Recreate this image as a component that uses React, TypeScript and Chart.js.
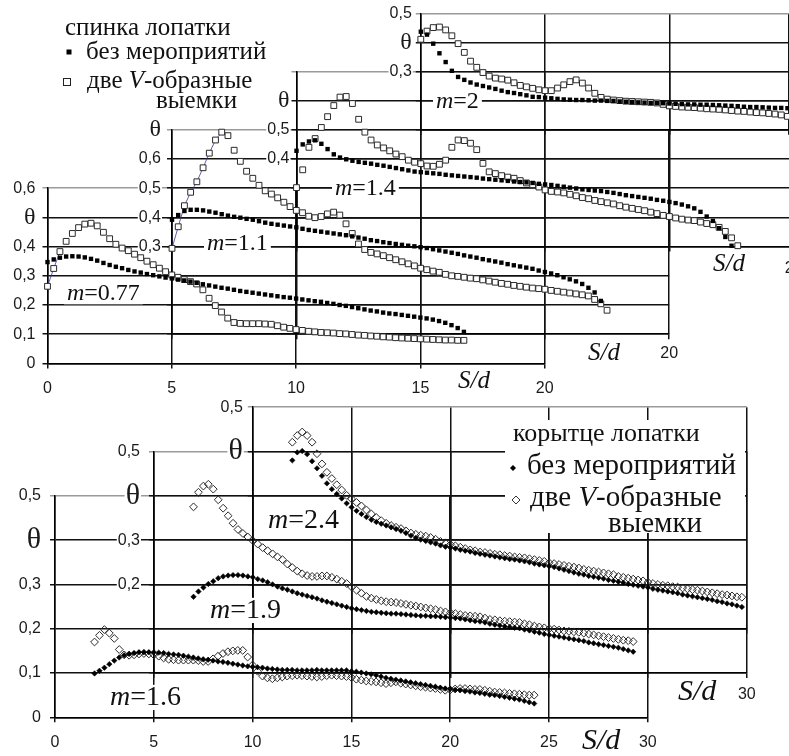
import React, { useEffect, useRef } from 'react';
import { Chart, registerables } from 'chart.js';

Chart.register(...registerables);

const CW = 900;
const CH = 760;
const SANS = '"Liberation Sans", Arial, sans-serif';
const SERIF = '"Liberation Serif", "Times New Roman", serif';
const DARK = '#111';
const GRAY = '#9a9a9a';

// S/d stations
const TOP_S = [0,0.25,0.5,0.75,1,1.25,1.5,1.75,2,2.25,2.5,2.75,3,3.25,3.5,3.75,4,4.25,4.5,4.75,5,5.25,5.5,5.75,6,6.25,6.5,6.75,7,7.25,7.5,7.75,8,8.25,8.5,8.75,9,9.25,9.5,9.75,10,10.25,10.5,10.75,11,11.25,11.5,11.75,12,12.25,12.5,12.75,13,13.25,13.5,13.75,14,14.25,14.5,14.75,15,15.25,15.5,15.75,16,16.25,16.5,16.75,17,17.25,17.5,17.75];
const BOT_S = [2,2.25,2.5,2.75,3,3.25,3.5,3.75,4,4.25,4.5,4.75,5,5.25,5.5,5.75,6,6.25,6.5,6.75,7,7.25,7.5,7.75,8,8.25,8.5,8.75,9,9.25,9.5,9.75,10,10.25,10.5,10.75,11,11.25,11.5,11.75,12,12.25,12.5,12.75,13,13.25,13.5,13.75,14,14.25,14.5,14.75,15,15.25,15.5,15.75,16,16.25,16.5,16.75,17,17.25,17.5,17.75,18,18.25,18.5,18.75,19,19.25,19.5,19.75,20,20.25,20.5,20.75,21,21.25,21.5,21.75,22,22.25,22.5,22.75,23,23.25,23.5,23.75,24,24.25,24.5,24.75];

// спинка лопатки, m = 0.77
const A_FILLED = [0.347,0.356,0.362,0.366,0.367,0.366,0.363,0.358,0.352,0.344,0.337,0.331,0.326,0.320,0.315,0.311,0.306,0.302,0.298,0.294,0.291,0.287,0.284,0.280,0.276,0.271,0.267,0.263,0.259,0.256,0.252,0.248,0.245,0.242,0.239,0.236,0.233,0.230,0.227,0.225,0.222,0.219,0.216,0.213,0.211,0.207,0.204,0.200,0.197,0.193,0.189,0.185,0.181,0.178,0.174,0.171,0.169,0.166,0.163,0.160,0.157,0.154,0.150,0.145,0.139,0.131,0.121,0.108];
const A_HOLLOW = [0.264,0.325,0.383,0.418,0.445,0.465,0.477,0.480,0.471,0.449,0.427,0.408,0.395,0.386,0.374,0.362,0.350,0.338,0.326,0.314,0.303,0.295,0.287,0.280,0.272,0.252,0.223,0.198,0.176,0.155,0.140,0.137,0.136,0.136,0.136,0.135,0.134,0.129,0.124,0.120,0.116,0.113,0.110,0.108,0.106,0.105,0.104,0.102,0.101,0.099,0.097,0.096,0.094,0.093,0.091,0.090,0.088,0.087,0.086,0.085,0.084,0.083,0.082,0.081,0.080,0.080,0.079,0.079];
// m = 1.1
const B_FILLED = [0.392,0.408,0.422,0.426,0.426,0.424,0.420,0.416,0.411,0.406,0.402,0.399,0.395,0.392,0.387,0.382,0.378,0.375,0.372,0.369,0.366,0.361,0.357,0.354,0.351,0.348,0.345,0.342,0.339,0.335,0.331,0.327,0.322,0.319,0.315,0.312,0.309,0.306,0.303,0.301,0.298,0.295,0.291,0.287,0.283,0.279,0.275,0.270,0.266,0.262,0.257,0.253,0.249,0.245,0.240,0.236,0.232,0.228,0.224,0.218,0.213,0.208,0.202,0.195,0.188,0.181,0.172,0.159,0.143,0.114];
const B_HOLLOW = [0.294,0.368,0.440,0.486,0.522,0.570,0.620,0.665,0.692,0.680,0.630,0.592,0.558,0.534,0.510,0.491,0.480,0.467,0.452,0.437,0.424,0.416,0.404,0.399,0.403,0.412,0.418,0.408,0.378,0.345,0.309,0.290,0.280,0.275,0.269,0.262,0.255,0.248,0.241,0.234,0.226,0.221,0.216,0.212,0.205,0.200,0.198,0.195,0.192,0.190,0.186,0.182,0.178,0.174,0.171,0.167,0.164,0.161,0.158,0.156,0.154,0.150,0.147,0.144,0.141,0.138,0.135,0.131,0.119,0.104,0.082];
// m = 1.4
const C_FILLED = [0.428,0.450,0.460,0.464,0.452,0.434,0.416,0.405,0.399,0.394,0.390,0.387,0.384,0.380,0.377,0.373,0.369,0.365,0.361,0.357,0.355,0.353,0.351,0.349,0.346,0.344,0.342,0.340,0.338,0.336,0.333,0.331,0.329,0.327,0.325,0.323,0.321,0.320,0.318,0.315,0.313,0.311,0.308,0.305,0.302,0.299,0.296,0.294,0.292,0.290,0.287,0.284,0.280,0.276,0.273,0.270,0.267,0.264,0.260,0.257,0.253,0.249,0.244,0.238,0.231,0.219,0.203,0.188,0.163,0.133,0.103];
const C_HOLLOW = [0.302,0.363,0.440,0.470,0.508,0.545,0.583,0.612,0.614,0.590,0.536,0.492,0.465,0.448,0.438,0.428,0.417,0.408,0.396,0.389,0.384,0.376,0.375,0.382,0.396,0.440,0.465,0.463,0.454,0.432,0.385,0.356,0.350,0.343,0.338,0.334,0.326,0.318,0.312,0.304,0.294,0.289,0.287,0.284,0.279,0.274,0.268,0.264,0.258,0.254,0.250,0.246,0.240,0.235,0.231,0.227,0.223,0.218,0.213,0.207,0.203,0.198,0.194,0.191,0.189,0.184,0.179,0.175,0.166,0.152,0.130,0.103];
// m = 2
const D_FILLED = [0.436,0.426,0.395,0.362,0.332,0.302,0.281,0.271,0.262,0.255,0.250,0.245,0.240,0.234,0.229,0.226,0.222,0.218,0.213,0.212,0.210,0.208,0.206,0.204,0.203,0.202,0.202,0.201,0.200,0.200,0.199,0.199,0.197,0.196,0.195,0.194,0.193,0.192,0.192,0.191,0.190,0.189,0.188,0.187,0.187,0.186,0.186,0.185,0.184,0.183,0.182,0.181,0.179,0.178,0.178,0.177,0.176,0.175,0.175,0.174];
const D_HOLLOW = [0.410,0.438,0.450,0.452,0.442,0.422,0.395,0.365,0.335,0.314,0.296,0.284,0.277,0.274,0.270,0.261,0.252,0.247,0.242,0.237,0.234,0.234,0.243,0.254,0.265,0.271,0.260,0.243,0.225,0.211,0.205,0.202,0.200,0.198,0.197,0.196,0.195,0.194,0.192,0.187,0.182,0.180,0.178,0.177,0.176,0.174,0.172,0.171,0.170,0.168,0.166,0.164,0.163,0.161,0.159,0.158,0.156,0.154,0.151,0.146];

// корытце лопатки, m = 1.6
const E_FILLED = [0.099,0.105,0.112,0.120,0.128,0.135,0.140,0.143,0.145,0.147,0.147,0.147,0.147,0.146,0.145,0.143,0.142,0.141,0.139,0.137,0.135,0.133,0.131,0.130,0.128,0.126,0.125,0.123,0.121,0.119,0.117,0.115,0.114,0.113,0.112,0.110,0.109,0.108,0.107,0.107,0.107,0.106,0.106,0.106,0.106,0.107,0.106,0.106,0.106,0.106,0.106,0.106,0.104,0.103,0.101,0.099,0.097,0.095,0.092,0.089,0.087,0.085,0.083,0.081,0.079,0.077,0.075,0.073,0.071,0.069,0.067,0.065,0.064,0.062,0.061,0.059,0.058,0.056,0.055,0.053,0.051,0.050,0.048,0.046,0.044,0.042,0.040,0.037,0.034,0.031];
const E_HOLLOW = [0.170,0.185,0.198,0.190,0.178,0.153,0.141,0.140,0.141,0.143,0.144,0.143,0.141,0.138,0.134,0.131,0.130,0.129,0.129,0.129,0.129,0.128,0.126,0.126,0.132,0.138,0.144,0.148,0.150,0.151,0.151,0.136,0.118,0.104,0.093,0.089,0.087,0.089,0.091,0.093,0.094,0.095,0.094,0.093,0.092,0.091,0.092,0.094,0.095,0.094,0.093,0.092,0.090,0.086,0.084,0.082,0.081,0.080,0.078,0.076,0.078,0.080,0.077,0.075,0.073,0.071,0.069,0.068,0.066,0.065,0.063,0.061,0.062,0.064,0.065,0.065,0.064,0.063,0.063,0.061,0.059,0.057,0.056,0.055,0.054,0.053,0.052,0.051,0.050,0.050];
// m = 1.9
const F_FILLED = [0.172,0.184,0.193,0.201,0.207,0.214,0.218,0.220,0.221,0.221,0.220,0.218,0.216,0.212,0.209,0.205,0.200,0.195,0.191,0.188,0.184,0.180,0.177,0.174,0.171,0.168,0.164,0.161,0.158,0.155,0.152,0.149,0.146,0.144,0.142,0.140,0.138,0.137,0.136,0.135,0.134,0.134,0.133,0.132,0.131,0.130,0.129,0.129,0.128,0.128,0.127,0.126,0.125,0.124,0.123,0.121,0.119,0.117,0.116,0.114,0.111,0.109,0.107,0.105,0.104,0.102,0.101,0.098,0.096,0.093,0.091,0.088,0.086,0.084,0.082,0.080,0.078,0.076,0.074,0.072,0.069,0.067,0.065,0.063,0.061,0.059,0.057,0.054,0.051,0.048];
const F_HOLLOW = [0.375,0.408,0.422,0.426,0.415,0.391,0.372,0.355,0.338,0.324,0.315,0.307,0.299,0.291,0.283,0.276,0.269,0.262,0.256,0.246,0.238,0.230,0.224,0.220,0.218,0.218,0.219,0.219,0.216,0.212,0.207,0.202,0.194,0.187,0.180,0.173,0.169,0.166,0.163,0.161,0.160,0.159,0.157,0.155,0.153,0.151,0.149,0.147,0.145,0.143,0.140,0.138,0.136,0.134,0.132,0.130,0.129,0.128,0.127,0.124,0.121,0.120,0.118,0.117,0.116,0.115,0.114,0.111,0.109,0.106,0.104,0.102,0.100,0.099,0.097,0.095,0.094,0.093,0.092,0.090,0.088,0.086,0.084,0.082,0.080,0.078,0.076,0.074,0.073,0.071];
// m = 2.4
const G_FILLED = [0.380,0.398,0.401,0.394,0.378,0.362,0.345,0.328,0.315,0.304,0.294,0.283,0.274,0.266,0.259,0.252,0.246,0.241,0.237,0.233,0.229,0.225,0.221,0.216,0.210,0.205,0.201,0.198,0.195,0.192,0.188,0.185,0.183,0.181,0.178,0.176,0.174,0.171,0.169,0.167,0.165,0.163,0.161,0.159,0.157,0.156,0.154,0.152,0.150,0.147,0.145,0.143,0.141,0.139,0.136,0.133,0.130,0.127,0.124,0.122,0.119,0.117,0.115,0.113,0.110,0.108,0.106,0.104,0.101,0.099,0.097,0.095,0.093,0.090,0.088,0.086,0.084,0.082,0.080,0.077,0.075,0.073,0.071,0.069,0.067,0.065,0.062,0.060,0.057,0.055,0.052,0.049];
const G_HOLLOW = [0.421,0.436,0.444,0.436,0.421,0.395,0.372,0.353,0.339,0.325,0.313,0.301,0.293,0.285,0.277,0.268,0.259,0.251,0.244,0.238,0.233,0.229,0.226,0.221,0.216,0.213,0.211,0.209,0.206,0.202,0.197,0.193,0.190,0.187,0.184,0.181,0.178,0.176,0.173,0.172,0.170,0.168,0.167,0.165,0.164,0.162,0.161,0.160,0.158,0.156,0.154,0.152,0.149,0.147,0.145,0.143,0.141,0.139,0.137,0.134,0.132,0.130,0.128,0.126,0.124,0.122,0.118,0.116,0.114,0.112,0.110,0.108,0.105,0.102,0.100,0.098,0.097,0.095,0.094,0.092,0.090,0.088,0.087,0.085,0.083,0.081,0.079,0.077,0.076,0.074,0.072,0.071];

type Part = [string, boolean];

interface Panel {
  id: string;
  area: [number, number, number, number];
  xr: [number, number];
  yr: [number, number];
  theta: number;
  thetaSize: number;
  yShow: number[];
  xShow: number[];
  yPad: number;
  xPad: number;
  xs: number[];
  filled: number[];
  hollow: number[];
  marker: 'sq' | 'dia';
  joined: number; // how many leading hollow points are joined by the thin connector line
}

const PANELS: Panel[] = [
  { id: 'A', area: [47.5, 188.2, 544.7, 363.4], xr: [0, 20], yr: [0, 0.6], theta: 0.5, thetaSize: 24, yShow: [0, 0.1, 0.2, 0.3, 0.4, 0.6], xShow: [0, 5, 10, 15, 20], yPad: 7, xPad: 11, xs: TOP_S, filled: A_FILLED, hollow: A_HOLLOW, marker: 'sq', joined: 3 },
  { id: 'B', area: [172, 129.8, 669.2, 334.2], xr: [0, 20], yr: [0, 0.7], theta: 0.7, thetaSize: 24, yShow: [0.3, 0.4, 0.5, 0.6], xShow: [20], yPad: 6, xPad: 5, xs: TOP_S, filled: B_FILLED, hollow: B_HOLLOW, marker: 'sq', joined: 9 },
  { id: 'C', area: [296.5, 71.4, 793.7, 246.6], xr: [0, 20], yr: [0.1, 0.7], theta: 0.6, thetaSize: 24, yShow: [0.4, 0.5], xShow: [20], yPad: 2, xPad: 7, xs: TOP_S, filled: C_FILLED, hollow: C_HOLLOW, marker: 'sq', joined: 0 },
  { id: 'D', area: [420.8, 13, 788.7, 129.8], xr: [0, 14.8], yr: [0.1, 0.5], theta: 0.4, thetaSize: 24, yShow: [0.3, 0.5], xShow: [], yPad: 4, xPad: 5, xs: TOP_S, filled: D_FILLED, hollow: D_HOLLOW, marker: 'sq', joined: 0 },
  { id: 'E', area: [55, 495.8, 647.8, 717.3], xr: [0, 30], yr: [0, 0.5], theta: 0.4, thetaSize: 30, yShow: [0, 0.1, 0.2, 0.3, 0.5], xShow: [0, 5, 10, 15, 20, 25, 30], yPad: 9, xPad: 11, xs: BOT_S, filled: E_FILLED, hollow: E_HOLLOW, marker: 'dia', joined: 0 },
  { id: 'F', area: [154, 451.5, 746.8, 673], xr: [0, 30], yr: [0, 0.5], theta: 0.4, thetaSize: 30, yShow: [0.2, 0.3, 0.5], xShow: [30], yPad: 9, xPad: 7, xs: BOT_S, filled: F_FILLED, hollow: F_HOLLOW, marker: 'dia', joined: 0 },
  { id: 'G', area: [252.8, 407.2, 746.8, 628.7], xr: [0, 25], yr: [0, 0.5], theta: 0.4, thetaSize: 30, yShow: [0.5], xShow: [], yPad: 5, xPad: 5, xs: BOT_S, filled: G_FILLED, hollow: G_HOLLOW, marker: 'dia', joined: 0 },
];

const LABELS: { parts: Part[]; x: number; y: number; size: number }[] = [
  { parts: [['m', true], ['=0.77', false]], x: 67, y: 300, size: 24 },
  { parts: [['m', true], ['=1.1', false]], x: 207, y: 250, size: 24 },
  { parts: [['m', true], ['=1.4', false]], x: 335, y: 195, size: 24 },
  { parts: [['m', true], ['=2', false]], x: 436, y: 108, size: 24 },
  { parts: [['S/d', true]], x: 458, y: 388, size: 25 },
  { parts: [['S/d', true]], x: 588, y: 360, size: 25 },
  { parts: [['S/d', true]], x: 713, y: 271, size: 25 },
  { parts: [['m', true], ['=2.4', false]], x: 268, y: 528, size: 28 },
  { parts: [['m', true], ['=1.9', false]], x: 210, y: 618, size: 28 },
  { parts: [['m', true], ['=1.6', false]], x: 110, y: 705, size: 28 },
  { parts: [['S/d', true]], x: 678, y: 700, size: 30 },
  { parts: [['S/d', true]], x: 582, y: 749, size: 30 },
];

const near = (a: number, b: number) => Math.abs(a - b) < 1e-6;
const fmt = (v: number) => {
  const r = Math.round(v * 10) / 10;
  return r === 0 ? '0' : r.toFixed(1).replace('.', ',');
};

function rich(ctx: CanvasRenderingContext2D, parts: Part[], x: number, y: number, size: number, bg: boolean) {
  const font = (it: boolean) => `${it ? 'italic ' : ''}${size}px ${SERIF}`;
  let w = 0;
  for (const [t, it] of parts) {
    ctx.font = font(it);
    w += ctx.measureText(t).width;
  }
  if (bg) {
    ctx.fillStyle = '#fff';
    ctx.fillRect(x - 3, y - size * 0.72, w + 6, size * 0.9);
  }
  ctx.fillStyle = '#111';
  ctx.textBaseline = 'alphabetic';
  ctx.textAlign = 'left';
  let cx = x;
  for (const [t, it] of parts) {
    ctx.font = font(it);
    ctx.fillText(t, cx, y);
    cx += ctx.measureText(t).width;
  }
}

function diamond(ctx: CanvasRenderingContext2D, x: number, y: number, r: number, fill: boolean) {
  ctx.beginPath();
  ctx.moveTo(x, y - r);
  ctx.lineTo(x + r, y);
  ctx.lineTo(x, y + r);
  ctx.lineTo(x - r, y);
  ctx.closePath();
  if (fill) {
    ctx.fillStyle = '#000';
    ctx.fill();
  } else {
    ctx.strokeStyle = '#333';
    ctx.lineWidth = 1;
    ctx.stroke();
  }
}

const annotationPlugin = {
  id: 'annotations',
  afterDraw(chart: any) {
    const ctx: CanvasRenderingContext2D = chart.ctx;
    ctx.save();
    for (const l of LABELS) rich(ctx, l.parts, l.x, l.y, l.size, true);
    // top legend
    rich(ctx, [['спинка лопатки', false]], 65, 35, 25, false);
    ctx.fillStyle = '#000';
    ctx.fillRect(66.5, 49.5, 5, 5);
    rich(ctx, [['без мероприятий', false]], 86, 59, 25, false);
    ctx.strokeStyle = '#222';
    ctx.lineWidth = 1;
    ctx.strokeRect(63.5, 78.5, 7, 7);
    rich(ctx, [['две ', false], ['V', true], ['-образные', false]], 87, 88, 25, false);
    rich(ctx, [['выемки', false]], 156, 108, 25, false);
    // bottom legend
    ctx.fillStyle = '#fff';
    ctx.fillRect(505, 420, 240, 113);
    rich(ctx, [['корытце лопатки', false]], 513, 441, 26, false);
    diamond(ctx, 513, 468, 3, true);
    rich(ctx, [['без мероприятий', false]], 527, 474, 29, false);
    diamond(ctx, 516, 500, 4, false);
    rich(ctx, [['две ', false], ['V', true], ['-образные', false]], 530, 506, 29, false);
    rich(ctx, [['выемки', false]], 608, 532, 29, false);
    ctx.restore();
  },
};

function buildConfig(p: Panel, mode: 'grid' | 'data', withAnno: boolean): any {
  const [left, top, right, bottom] = p.area;
  const grid = mode === 'grid';
  const yLabel = (v: number) => (near(v, p.theta) ? 'θ' : p.yShow.some((s) => near(s, v)) ? fmt(v) : '');
  const xLabel = (v: number) => (p.xShow.some((s) => near(s, v)) ? String(Math.round(v)) : '');
  const sq = p.marker === 'sq';
  const datasets: any[] = [];
  if (!grid) {
    datasets.push(
      {
        label: 'без мероприятий',
        data: p.filled.map((y, i) => ({ x: p.xs[i], y })),
        pointStyle: sq ? 'rect' : 'rectRot',
        pointRadius: sq ? 3.1 : 2.7,
        pointBackgroundColor: '#000',
        pointBorderColor: '#000',
        pointBorderWidth: sq ? 0 : 0.6,
        showLine: false,
        clip: false,
      },
      {
        label: 'две V-образные выемки',
        data: p.hollow.map((y, i) => ({ x: p.xs[i], y })),
        pointStyle: sq ? 'rect' : 'rectRot',
        pointRadius: sq ? 4.1 : 3.9,
        pointBackgroundColor: sq ? '#fff' : 'rgba(255,255,255,0)',
        pointBorderColor: '#2a2a2a',
        pointBorderWidth: 1,
        showLine: false,
        clip: false,
      },
    );
    if (p.joined > 0) {
      datasets.push({
        label: 'connector',
        data: p.hollow.slice(0, p.joined).map((y, i) => ({ x: p.xs[i], y })),
        showLine: true,
        borderColor: '#3a3aa0',
        borderWidth: 0.8,
        pointRadius: 0,
        clip: false,
      });
    }
  }
  const yGridColor = (c: any) => (c.tick && near(c.tick.value, p.yr[1]) ? GRAY : DARK);
  return {
    type: 'scatter',
    data: { datasets },
    options: {
      responsive: false,
      maintainAspectRatio: false,
      devicePixelRatio: 1,
      animation: false,
      events: [],
      layout: {
        autoPadding: false,
        padding: { left: left - 40, top, right: CW - right, bottom: CH - bottom - 30 },
      },
      plugins: { legend: { display: false }, tooltip: { enabled: false }, title: { display: false } },
      scales: {
        x: {
          type: 'linear',
          position: 'bottom',
          min: p.xr[0],
          max: p.xr[1],
          afterFit: (s: any) => {
            s.height = 30;
          },
          grid: { display: grid, color: DARK, lineWidth: 1.5, drawTicks: true, tickLength: 5, tickColor: DARK },
          border: { display: grid, color: '#000', width: 1.5 },
          ticks: {
            display: grid,
            stepSize: 5,
            autoSkip: false,
            maxRotation: 0,
            minRotation: 0,
            padding: p.xPad,
            color: '#1a1a1a',
            font: { family: SANS, size: 16 },
            callback: (v: any) => xLabel(Number(v)),
            showLabelBackdrop: true,
            backdropColor: (c: any) => (c.tick && xLabel(c.tick.value) ? '#fff' : 'rgba(0,0,0,0)'),
            backdropPadding: 1,
          },
        },
        y: {
          type: 'linear',
          position: 'left',
          min: p.yr[0],
          max: p.yr[1],
          afterFit: (s: any) => {
            s.width = 40;
          },
          grid: { display: grid, color: yGridColor, lineWidth: 1.5, drawTicks: true, tickLength: 5, tickColor: yGridColor },
          border: { display: grid, color: '#000', width: 1.5 },
          ticks: {
            display: grid,
            stepSize: 0.1,
            autoSkip: false,
            padding: p.yPad,
            color: '#1a1a1a',
            font: (c: any) =>
              c.tick && near(c.tick.value, p.theta) ? { family: SERIF, size: p.thetaSize } : { family: SANS, size: 16 },
            callback: (v: any) => yLabel(Number(v)),
            showLabelBackdrop: true,
            backdropColor: (c: any) => (c.tick && yLabel(c.tick.value) ? '#fff' : 'rgba(0,0,0,0)'),
            backdropPadding: 1,
          },
        },
      },
    },
    plugins: withAnno ? [annotationPlugin] : [],
  };
}

function PanelCanvas({ panel, mode, z, anno }: { panel: Panel; mode: 'grid' | 'data'; z: number; anno: boolean }) {
  const ref = useRef<HTMLCanvasElement>(null);
  useEffect(() => {
    if (!ref.current) return;
    const chart = new Chart(ref.current, buildConfig(panel, mode, anno));
    return () => chart.destroy();
  }, [panel, mode, anno]);
  return <canvas ref={ref} width={CW} height={CH} style={{ position: 'absolute', left: 0, top: 0, zIndex: z }} />;
}

export default function App() {
  return (
    <div
      style={{
        position: 'fixed',
        left: 0,
        top: 0,
        width: 789,
        height: 756,
        overflow: 'hidden',
        background: '#fff',
      }}
    >
      {PANELS.map((p, i) => (
        <PanelCanvas key={'g' + p.id} panel={p} mode="grid" z={1 + i} anno={false} />
      ))}
      {PANELS.map((p, i) => (
        <PanelCanvas key={'d' + p.id} panel={p} mode="data" z={20 + i} anno={i === PANELS.length - 1} />
      ))}
    </div>
  );
}
